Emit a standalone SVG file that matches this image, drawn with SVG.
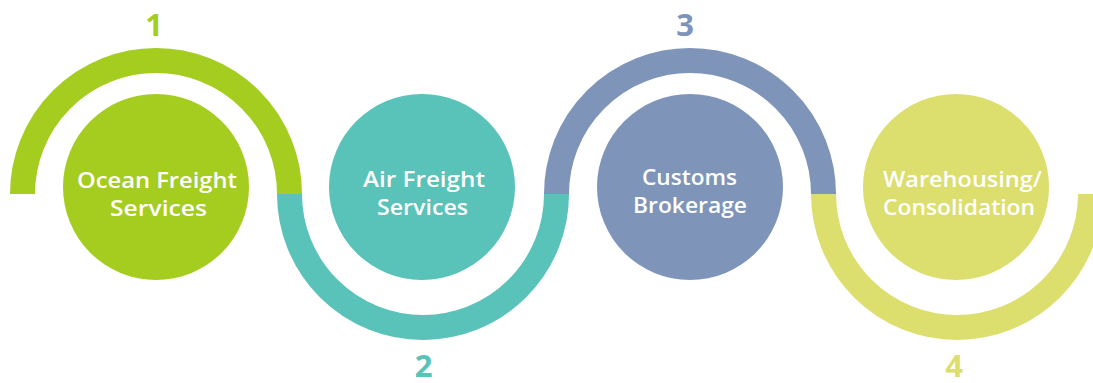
<svg xmlns="http://www.w3.org/2000/svg" width="1093" height="383" viewBox="0 0 1093 383">
<style>
.arc{fill:none;stroke-width:25;stroke-linecap:butt}
.lbl{font-family:"Open Sans","Liberation Sans",sans-serif;font-weight:600;font-size:21.5px;fill:#fff;text-anchor:middle}
.num{font-family:"Open Sans","Liberation Sans",sans-serif;font-weight:700;font-size:31px;text-anchor:middle}
</style>
<rect width="1093" height="383" fill="#fff"/>
<g id="connectors">
<path class="arc" stroke="#A4CD1F" d="M22.5,194 A133.5,133.5 0 0 1 289.5,194"/>
<path class="arc" stroke="#59C2B9" d="M289.5,194 A133.5,133.5 0 0 0 556.5,194"/>
<path class="arc" stroke="#7E94B8" d="M556.5,194 A133.5,133.5 0 0 1 823.5,194"/>
<path class="arc" stroke="#DCDE6E" d="M823.5,194 A133.5,133.5 0 0 0 1090.5,194"/>
</g>
<g id="node1">
<circle cx="156" cy="187" r="93" fill="#A4CD1F"/>
<text class="lbl" x="157" y="188" textLength="160" lengthAdjust="spacingAndGlyphs">Ocean Freight</text>
<text class="lbl" x="158.5" y="216" textLength="97" lengthAdjust="spacingAndGlyphs">Services</text>
<text class="num" x="154" y="36" fill="#A4CD1F">1</text>
</g>
<g id="node2">
<circle cx="422" cy="187" r="93" fill="#59C2B9"/>
<text class="lbl" x="424" y="187" textLength="122" lengthAdjust="spacingAndGlyphs">Air Freight</text>
<text class="lbl" x="422.5" y="215" textLength="91" lengthAdjust="spacingAndGlyphs">Services</text>
<text class="num" x="423.5" y="377" fill="#59C2B9">2</text>
</g>
<g id="node3">
<circle cx="690" cy="187" r="93" fill="#7E94B8"/>
<text class="lbl" x="689.5" y="185" textLength="95" lengthAdjust="spacingAndGlyphs">Customs</text>
<text class="lbl" x="690" y="213" textLength="114" lengthAdjust="spacingAndGlyphs">Brokerage</text>
<text class="num" x="685" y="36" fill="#7E94B8">3</text>
</g>
<g id="node4">
<circle cx="956" cy="187" r="93" fill="#DCDE6E"/>
<text class="lbl" x="962.5" y="187" textLength="159" lengthAdjust="spacingAndGlyphs">Warehousing/</text>
<text class="lbl" x="959" y="215" textLength="152" lengthAdjust="spacingAndGlyphs">Consolidation</text>
<text class="num" x="954" y="377" fill="#DCDE6E">4</text>
</g>
</svg>
